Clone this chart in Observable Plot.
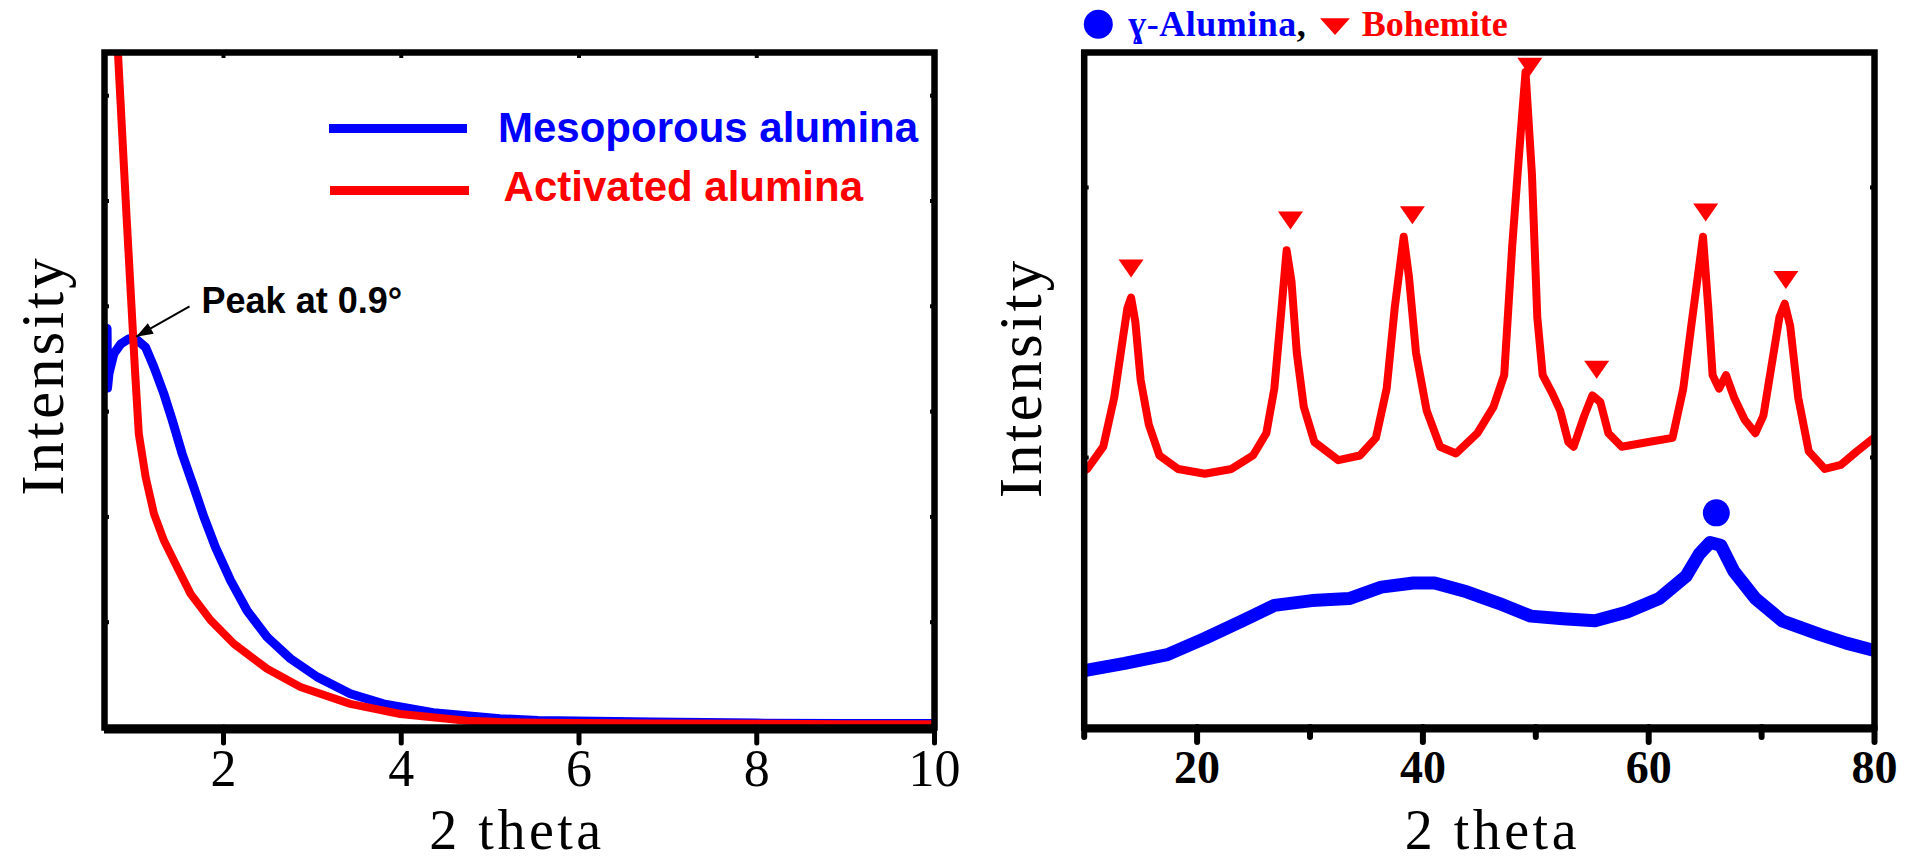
<!DOCTYPE html>
<html><head><meta charset="utf-8">
<script src="https://cdn.jsdelivr.net/npm/d3@7"></script>
<script src="https://cdn.jsdelivr.net/npm/@observablehq/plot@0.6"></script>
<style>
html,body{margin:0;padding:0;background:#fff;width:1909px;height:861px;overflow:hidden}
#wrap{position:relative;width:1909px;height:861px}
#left{position:absolute;left:0;top:0}
#right{position:absolute;left:960px;top:0}
#overlay{position:absolute;left:0;top:0;pointer-events:none}
</style></head><body><div id="wrap"><div id="left"></div><div id="right"></div></div>
<script>
// ---------- Data ----------
// Low-angle XRD (2θ, intensity a.u.)
const mesoporous = [[0.69,59.1],[0.695,50.3],[0.711,52.4],[0.767,55.4],[0.843,56.8],[0.936,57.6],[1.03,57.4],[1.124,56.3],[1.217,53.4],[1.33,49.4],[1.424,45.5],[1.536,40.5],[1.666,35.6],[1.779,31.2],[1.91,26.7],[2.079,21.8],[2.266,17.3],[2.49,13.4],[2.753,10.2],[3.053,7.5],[3.427,5.0],[3.8,3.5],[4.36,2.2],[5.11,1.3],[5.54,1.05],[6.83,0.8],[8.0,0.65],[9.0,0.6],[10.0,0.6]];
const activated = [[0.80,103],[0.811,100.3],[0.86,88],[0.91,75.5],[0.961,63.3],[1.002,53.4],[1.047,43.5],[1.124,37.1],[1.217,31.7],[1.33,27.7],[1.48,23.7],[1.63,19.8],[1.854,15.9],[2.116,12.4],[2.49,8.7],[2.865,6.0],[3.427,3.5],[3.99,2.0],[4.738,1.0],[5.11,0.8],[5.54,0.7],[6.83,0.6],[8.0,0.55],[9.0,0.5],[10.0,0.5]];
const lowAngleTicks = [2, 4, 6, 8, 10];
const lowAngleTopTicks = [2, 4, 6, 8];
const lowAngleYTicks = [15.6, 31.2, 46.8, 62.4, 78.0, 93.6];
const peakArrowFrom = [1.618, 62.4];
const peakArrowTo = [1.017, 57.9];
const peakLabel = "Peak at 0.9°";
const legendLow = ["Mesoporous alumina", "Activated alumina"];

// Wide-angle XRD
const bohemite = [[10.0,38.0],[10.27,38.3],[11.69,41.6],[12.66,48.9],[13.35,56.8],[13.82,62.1],[14.15,63.7],[14.53,60.1],[15.0,51.5],[15.72,44.9],[16.66,40.3],[18.32,38.3],[20.69,37.6],[23.05,38.3],[24.95,40.3],[26.13,43.6],[26.84,50.2],[27.41,60.8],[27.93,70.7],[28.36,66.1],[28.83,55.5],[29.45,47.5],[30.39,42.3],[32.52,39.6],[34.42,40.3],[35.84,42.9],[36.79,50.2],[37.5,62.1],[38.3,72.7],[38.77,66.7],[39.39,55.5],[40.34,46.9],[41.52,41.6],[42.94,40.6],[44.83,43.6],[46.25,47.5],[47.2,52.2],[47.91,71.3],[48.53,85.2],[49.09,97.1],[49.66,81.9],[50.13,60.8],[50.61,52.2],[51.46,49.5],[52.17,46.9],[52.88,42.3],[53.35,41.6],[54.3,46.2],[55.01,49.2],[55.72,48.2],[56.43,43.6],[57.61,41.6],[59.98,42.3],[62.11,42.9],[63.06,50.2],[63.77,59.5],[64.34,66.7],[64.81,72.7],[65.28,62.1],[65.66,52.2],[66.23,50.2],[66.85,52.2],[67.56,48.9],[68.5,45.6],[69.45,43.6],[70.16,46.2],[70.87,53.5],[71.58,60.8],[72.05,62.8],[72.53,59.5],[73.24,48.9],[74.18,40.9],[75.6,38.3],[77.02,38.9],[78.44,40.9],[80.0,43.0]];
const gammaAlumina = [[10.0,8.4],[10.27,8.5],[13.58,9.5],[17.37,10.8],[20.69,13.2],[24.0,15.8],[26.84,18.1],[30.16,18.8],[33.47,19.1],[36.31,20.8],[39.15,21.4],[41.04,21.4],[43.88,20.1],[46.72,18.4],[49.56,16.5],[52.4,16.1],[55.24,15.8],[58.09,17.1],[60.93,19.1],[63.3,22.4],[64.48,25.7],[65.43,27.4],[66.38,27.0],[67.56,23.1],[69.45,19.1],[71.82,15.8],[75.13,13.8],[77.5,12.5],[80.0,11.4]];
const bohemitePeaks = [[14.15,68.0],[28.27,75.1],[39.07,75.9],[49.47,97.9],[55.39,53.0],[65.05,76.3],[72.15,66.3]];
const gammaPeaks = [[65.99,31.8]];
const wideAngleTicks = [20, 40, 60, 80];
const wideAngleMinorTicks = [10, 30, 50, 70];
const wideAngleYTicks = [40, 80];
const legendWide = ["ɣ-Alumina", ",", "Bohemite"];

// ---------- Helpers ----------
const toXY = a => a.map(([x, y]) => ({x, y}));
const serif = "'Liberation Serif', 'Times New Roman', serif";
const sans = "'Liberation Sans', Arial, sans-serif";
const BLUE = "#0000ff", RED = "#ff0000";
const downTriangle = {draw(ctx, size) {const r = Math.sqrt(size / Math.PI); ctx.moveTo(-r, -0.72 * r); ctx.lineTo(r, -0.72 * r); ctx.lineTo(0, 0.72 * r); ctx.closePath();}};
const arrowHead = {draw(ctx, size) {const r = Math.sqrt(size / Math.PI); ctx.moveTo(0, 0); ctx.lineTo(-0.5 * r, 1.4 * r); ctx.lineTo(0.5 * r, 1.4 * r); ctx.closePath();}};
const nub = {tickFormat: () => "", strokeWidth: 4, label: null, stroke: "black"};

// ---------- Left chart ----------
const left = Plot.plot({
  width: 960, height: 861,
  marginLeft: 104, marginRight: 26, marginTop: 52, marginBottom: 134,
  style: {fontFamily: serif, background: "transparent", color: "black", overflow: "visible"},
  x: {domain: [0.661, 10]},
  y: {domain: [0, 100], axis: null},
  marks: [
    Plot.line(toXY(mesoporous), {x: "x", y: "y", stroke: BLUE, strokeWidth: 9, clip: true}),
    Plot.line(toXY(activated), {x: "x", y: "y", stroke: RED, strokeWidth: 8, clip: true}),
    Plot.link([{a: peakArrowFrom, b: peakArrowTo}], {x1: d => d.a[0], y1: d => d.a[1], x2: d => d.b[0], y2: d => d.b[1], stroke: "black", strokeWidth: 2}),
    Plot.dot([peakArrowTo], {x: d => d[0], y: d => d[1], symbol: arrowHead, r: 12, fill: "black", stroke: "none", rotate: -119.4}),
    Plot.text([peakLabel], {x: () => peakArrowFrom[0], y: () => peakArrowFrom[1], text: d => d, textAnchor: "start", lineAnchor: "bottom", dx: 12, dy: 7, fontFamily: sans, fontWeight: "bold", fontSize: 36, fill: "black"}),
    Plot.frame({stroke: "black", strokeWidth: 6.5}),
    Plot.ruleY([0], {stroke: "black", strokeWidth: 6, dy: 3}),
    Plot.axisX(lowAngleTicks, {anchor: "bottom", tickSize: 16, tickPadding: 6, strokeWidth: 5, strokeLinecap: "round", fontSize: 52, fontFamily: serif, fill: "black", stroke: "black", label: null}),
    Plot.axisX(lowAngleTopTicks, {anchor: "top", tickSize: -5, ...nub}),
    Plot.axisY(lowAngleYTicks, {anchor: "left", tickSize: -5, ...nub}),
    Plot.axisY(lowAngleYTicks, {anchor: "right", tickSize: -5, ...nub}),
    Plot.text(["Intensity"], {frameAnchor: "left", rotate: -90, lineAnchor: "bottom", textAnchor: "middle", dx: -42, dy: -14.5, fontSize: 61, fontFamily: serif, fill: "black"}),
    Plot.text(["2 theta"], {frameAnchor: "bottom", lineAnchor: "bottom", textAnchor: "middle", dx: -2.5, dy: 121, fontSize: 56, fontFamily: serif, fill: "black"})
  ]
});
document.getElementById("left").append(left);

// ---------- Right chart ----------
const right = Plot.plot({
  width: 949, height: 861,
  marginLeft: 123.7, marginRight: 35, marginTop: 52, marginBottom: 134,
  style: {fontFamily: serif, background: "transparent", color: "black", overflow: "visible"},
  x: {domain: [10, 80]},
  y: {domain: [0, 100], axis: null},
  marks: [
    Plot.line(toXY(bohemite), {x: "x", y: "y", stroke: RED, strokeWidth: 8, clip: true}),
    Plot.line(toXY(gammaAlumina), {x: "x", y: "y", stroke: BLUE, strokeWidth: 13, clip: true}),
    Plot.dot(toXY(bohemitePeaks), {x: "x", y: "y", symbol: downTriangle, r: 12.5, fill: RED, stroke: "none"}),
    Plot.dot(toXY(gammaPeaks), {x: "x", y: "y", r: 13.5, fill: BLUE, stroke: "none"}),
    Plot.frame({stroke: "black", strokeWidth: 6.5}),
    Plot.ruleY([0], {stroke: "black", strokeWidth: 6, dy: 2}),
    Plot.axisX(wideAngleTicks, {anchor: "bottom", tickSize: 15, tickPadding: 8, strokeWidth: 6, strokeLinecap: "round", fontSize: 46, fontWeight: "bold", fontFamily: serif, fill: "black", stroke: "black", label: null}),
    Plot.axisX(wideAngleMinorTicks, {anchor: "bottom", tickSize: 10, tickFormat: () => "", strokeWidth: 6, strokeLinecap: "round", stroke: "black", label: null}),
    Plot.axisY(wideAngleYTicks, {anchor: "left", tickSize: -5, ...nub}),
    Plot.axisY(wideAngleYTicks, {anchor: "right", tickSize: -5, ...nub}),
    Plot.text(["Intensity"], {frameAnchor: "left", rotate: -90, lineAnchor: "bottom", textAnchor: "middle", dx: -43, dy: -12, fontSize: 61, fontFamily: serif, fill: "black"}),
    Plot.text(["2 theta"], {frameAnchor: "bottom", lineAnchor: "bottom", textAnchor: "middle", dx: 13, dy: 121, fontSize: 56, fontFamily: serif, fill: "black"})
  ]
});
document.getElementById("right").append(right);

// letter spacing for the wide serif titles
for (const svg of [left, right]) {
  d3.select(svg).selectAll("text").each(function() {
    const t = this.textContent;
    if (t === "Intensity") this.style.letterSpacing = "3px";
    if (t === "2 theta") this.style.letterSpacing = "3.5px";
  });
}

// ---------- Legends (overlay) ----------
const ov = d3.select("#wrap").append("svg").attr("id", "overlay").attr("width", 1909).attr("height", 861);
// left legend
ov.append("line").attr("x1", 329).attr("x2", 467).attr("y1", 128.5).attr("y2", 128.5).attr("stroke", BLUE).attr("stroke-width", 9);
ov.append("text").attr("x", 498).attr("y", 141.5).attr("font-family", sans).attr("font-weight", "bold").attr("font-size", 42).attr("fill", BLUE).text(legendLow[0]);
ov.append("line").attr("x1", 330).attr("x2", 469).attr("y1", 190.5).attr("y2", 190.5).attr("stroke", RED).attr("stroke-width", 9);
ov.append("text").attr("x", 503.6).attr("y", 201).attr("font-family", sans).attr("font-weight", "bold").attr("font-size", 42).attr("fill", RED).text(legendLow[1]);
// right legend
ov.append("circle").attr("cx", 1098.3).attr("cy", 24.2).attr("r", 14.5).attr("fill", BLUE);
const lt = ov.append("text").attr("x", 1128.3).attr("y", 36).attr("font-family", serif).attr("font-weight", "bold").attr("font-size", 36).style("letter-spacing", "0.5px");
lt.append("tspan").attr("fill", BLUE).text(legendWide[0]);
lt.append("tspan").attr("fill", "black").text(legendWide[1]);
ov.append("path").attr("d", "M1320,18.3L1350,18.3L1335,35Z").attr("fill", RED);
ov.append("text").attr("x", 1361.7).attr("y", 36).attr("font-family", serif).attr("font-weight", "bold").attr("font-size", 36).attr("fill", RED).text(legendWide[2]);
</script></body></html>
